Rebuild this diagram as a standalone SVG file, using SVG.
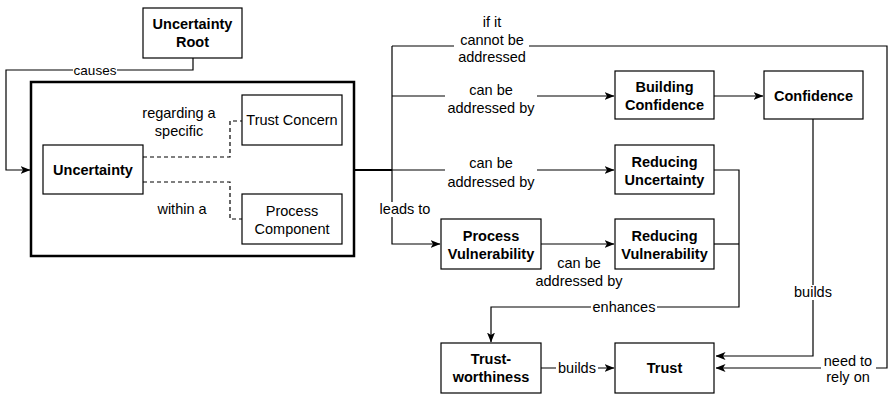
<svg xmlns="http://www.w3.org/2000/svg" width="888" height="394" viewBox="0 0 888 394">
<defs>
<marker id="arr" viewBox="0 0 10 8" refX="9.5" refY="4" markerWidth="10" markerHeight="8" markerUnits="userSpaceOnUse" orient="auto">
<path d="M0,0 L10,4 L0,8 L2.5,4 z" fill="#000"/>
</marker>
<style>
.box{fill:#fff;stroke:#000;stroke-width:1.2}
.big{fill:none;stroke:#000;stroke-width:2.5}
.bt{font-family:"Liberation Sans",Arial,sans-serif;font-size:14.5px;font-weight:bold;text-anchor:middle;fill:#000}
.nt{font-family:"Liberation Sans",Arial,sans-serif;font-size:14.5px;text-anchor:middle;fill:#000}
.lt{font-family:"Liberation Sans",Arial,sans-serif;font-size:14.5px;text-anchor:middle;fill:#000}
.ln{fill:none;stroke:#000;stroke-width:1.2}
.dash{fill:none;stroke:#000;stroke-width:1.2;stroke-dasharray:4 3}
.bg{fill:#fff}
</style>
</defs>
<rect width="888" height="394" fill="#fff"/>

<g id="connectors">
<path class="ln" d="M193,58 V70 H6 V170 H30" marker-end="url(#arr)"/>
<path class="ln" d="M355,170 H392" style="stroke-width:2"/>
<path class="ln" d="M392,170 H614" marker-end="url(#arr)"/>
<path class="ln" d="M392,46 V244 H440" marker-end="url(#arr)"/>
<path class="ln" d="M392,96 H614" marker-end="url(#arr)"/>
<path class="ln" d="M392,46 H887 V368 H716" marker-end="url(#arr)"/>
<path class="ln" d="M714,96 H763" marker-end="url(#arr)"/>
<path class="ln" d="M813,119 V356 H716" marker-end="url(#arr)"/>
<path class="ln" d="M541,244 H614" marker-end="url(#arr)"/>
<path class="ln" d="M714,170 H739 V307 H491 V342" marker-end="url(#arr)"/>
<path class="ln" d="M714,244 H739"/>
<path class="ln" d="M541,368 H614" marker-end="url(#arr)"/>
<path class="dash" d="M143,157 H230 V121 H242"/>
<path class="dash" d="M143,182 H230 V219 H242"/>

<rect class="bg" x="73" y="63" width="44" height="14"/>
<text class="lt" x="95" y="75" style="font-size:13.5px">causes</text>
<rect class="bg" x="454" y="14" width="75" height="50"/>
<text class="lt" x="492" y="27">if it</text>
<text class="lt" x="492" y="45">cannot be</text>
<text class="lt" x="492" y="62">addressed</text>
<rect class="bg" x="445" y="82" width="92" height="32"/>
<text class="lt" x="491" y="95">can be</text>
<text class="lt" x="491" y="113">addressed by</text>
<rect class="bg" x="445" y="156" width="92" height="32"/>
<text class="lt" x="491" y="168">can be</text>
<text class="lt" x="491" y="187">addressed by</text>
<rect class="bg" x="377" y="202" width="55" height="15"/>
<text class="lt" x="405" y="214">leads to</text>
<text class="lt" x="579" y="268">can be</text>
<text class="lt" x="579" y="286">addressed by</text>
<rect class="bg" x="591" y="300" width="66" height="15"/>
<text class="lt" x="624" y="312">enhances</text>
<rect class="bg" x="793" y="285" width="40" height="15"/>
<text class="lt" x="813" y="297">builds</text>
<rect class="bg" x="556" y="361" width="42" height="15"/>
<text class="lt" x="577" y="373">builds</text>
<rect class="bg" x="821" y="353" width="55" height="30"/>
<text class="lt" x="848" y="366">need to</text>
<text class="lt" x="848" y="382">rely on</text>
<text class="lt" x="179" y="118">regarding a</text>
<text class="lt" x="179" y="136">specific</text>
<text class="lt" x="182" y="214">within a</text>
</g>

<g id="uncertainty-root">
<rect class="box" x="143" y="8" width="99" height="50"/>
<text class="bt" x="192.5" y="29">Uncertainty</text>
<text class="bt" x="192.5" y="47">Root</text>
</g>

<g id="uncertainty-group">
<rect class="big" x="31" y="82" width="323" height="174"/>
</g>

<g id="uncertainty">
<rect class="box" x="43" y="145" width="100" height="49"/>
<text class="bt" x="93" y="175">Uncertainty</text>
</g>

<g id="trust-concern">
<rect class="box" x="242" y="95" width="100" height="50"/>
<text class="nt" x="292" y="125">Trust Concern</text>
</g>

<g id="process-component">
<rect class="box" x="242" y="194" width="100" height="50"/>
<text class="nt" x="292" y="216">Process</text>
<text class="nt" x="292" y="234">Component</text>
</g>

<g id="building-confidence">
<rect class="box" x="615" y="71" width="99" height="48"/>
<text class="bt" x="664.5" y="92">Building</text>
<text class="bt" x="664.5" y="110">Confidence</text>
</g>

<g id="confidence">
<rect class="box" x="764" y="71" width="99" height="48"/>
<text class="bt" x="813.5" y="101">Confidence</text>
</g>

<g id="reducing-uncertainty">
<rect class="box" x="615" y="145" width="99" height="49"/>
<text class="bt" x="664.5" y="167">Reducing</text>
<text class="bt" x="664.5" y="185">Uncertainty</text>
</g>

<g id="process-vulnerability">
<rect class="box" x="441" y="219" width="100" height="50"/>
<text class="bt" x="491" y="241">Process</text>
<text class="bt" x="491" y="259">Vulnerability</text>
</g>

<g id="reducing-vulnerability">
<rect class="box" x="615" y="219" width="99" height="50"/>
<text class="bt" x="664.5" y="241">Reducing</text>
<text class="bt" x="664.5" y="259">Vulnerability</text>
</g>

<g id="trustworthiness">
<rect class="box" x="441" y="343" width="100" height="50"/>
<text class="bt" x="491" y="364">Trust-</text>
<text class="bt" x="491" y="382">worthiness</text>
</g>

<g id="trust">
<rect class="box" x="615" y="343" width="99" height="50"/>
<text class="bt" x="664.5" y="373">Trust</text>
</g>
</svg>
